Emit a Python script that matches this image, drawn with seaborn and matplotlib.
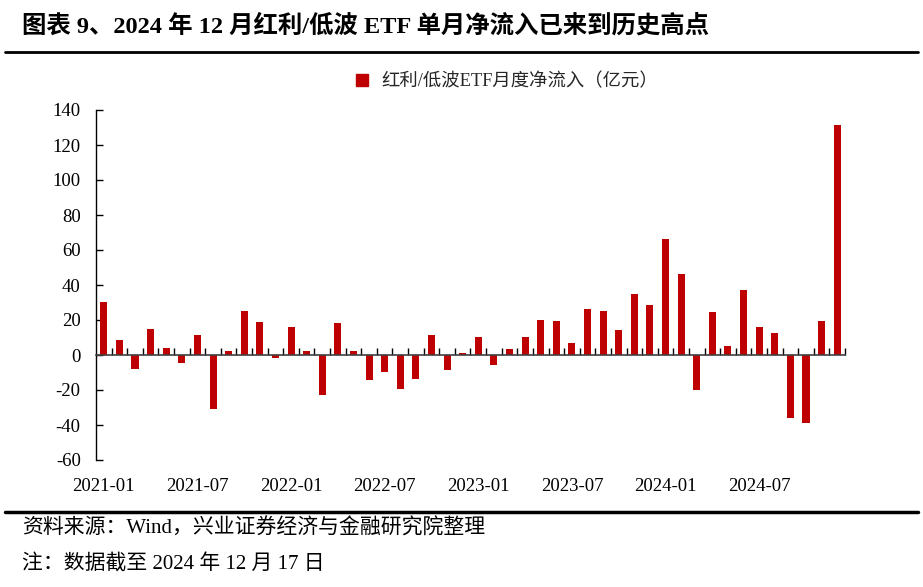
import matplotlib
matplotlib.use("Agg")
import matplotlib.pyplot as plt
import seaborn as sns
import pandas as pd
from matplotlib.lines import Line2D

# ---- data ----
months = [f"{y}-{m:02d}" for y in (2021, 2022, 2023, 2024) for m in range(1, 13)]
inflow_2021 = [30.5, 8.6, -8.2, 14.7, 4.0, -4.8, 11.2, -31.0, 2.1, 25.1, 18.7, -1.7]
inflow_2022 = [16.0, 2.3, -23.0, 18.1, 2.3, -14.3, -9.5, -19.6, -13.9, 11.4, -8.6, 1.3]
inflow_2023 = [10.1, -5.7, 3.2, 10.3, 20.2, 19.2, 6.9, 26.1, 25.0, 14.3, 35.0, 28.8]
inflow_2024 = [66.3, 46.3, -19.8, 24.6, 5.0, 37.3, 16.0, 12.8, -35.8, -38.7, 19.4, 131.4]
inflow = inflow_2021 + inflow_2022 + inflow_2023 + inflow_2024
tick_labels = ["2021-01", "2021-07", "2022-01", "2022-07", "2023-01",
               "2023-07", "2024-01", "2024-07"]
yticks = [-60, -40, -20, 0, 20, 40, 60, 80, 100, 120, 140]
series_name = "红利/低波ETF月度净流入（亿元）"
title = "图表 9、2024 年 12 月红利/低波 ETF 单月净流入已来到历史高点"
source = "资料来源：Wind，兴业证券经济与金融研究院整理"
note = "注：数据截至 2024 年 12 月 17 日"

df = pd.DataFrame({"month": months, "inflow": inflow})

sns.set_theme(style="white")
plt.rcParams["font.family"] = ["Liberation Serif", "Noto Sans CJK SC", "DejaVu Sans"]

fig = plt.figure(figsize=(9.23, 5.87), dpi=100)
ax = fig.add_axes([96 / 923, 1 - 460 / 587, 749 / 923, 350 / 587])

red = "#BE0000"
sns.barplot(data=df, x="month", y="inflow", color=red, width=0.45,
            saturation=1, linewidth=0, ax=ax, zorder=3)

n = len(months)
ax.set_xlim(-0.5, n - 0.5)
ax.set_ylim(min(yticks), max(yticks))
ax.set_yticks(yticks)
ax.set_yticklabels([str(v) for v in yticks], fontsize=13.5, color="black")
ax.tick_params(axis="y", left=True, direction="in", length=5, width=1,
               color="black", pad=11)
ax.set_xlabel("")
ax.set_ylabel("")

# spines
for s in ["top", "right"]:
    ax.spines[s].set_visible(False)
ax.spines["left"].set_color("black")
ax.spines["left"].set_linewidth(1.0)
ax.spines["bottom"].set_position(("data", 0))
ax.spines["bottom"].set_color("#404040")
ax.spines["bottom"].set_linewidth(1.2)
ax.spines["bottom"].set_zorder(4)

# category boundary ticks on the zero line
ax.set_xticks([])
ax.set_xticks([i + 0.5 for i in range(n)], minor=True)
ax.tick_params(axis="x", which="minor", bottom=True, direction="in", length=5,
               width=1, color="black", labelbottom=False)

# date labels at the bottom of the plot area
sec = ax.secondary_xaxis("bottom")
label_pos = [months.index(t) for t in tick_labels]
sec.set_xticks(label_pos)
sec.set_xticklabels(tick_labels, fontsize=13.5, color="black")
sec.tick_params(length=0, pad=13)
sec.spines["bottom"].set_visible(False)

# legend
handle = Line2D([], [], marker="s", linestyle="none", markersize=8,
                markerfacecolor=red, markeredgecolor=red)
leg = ax.legend([handle], [series_name], loc="center",
                bbox_to_anchor=(0.54, 1.08), frameon=False,
                fontsize=13.2, handletextpad=0.05, borderaxespad=0)

# title, rules and footnotes
fig.text(22 / 923, 1 - 26 / 587, title, fontsize=17.6, fontweight="bold",
         ha="left", va="center", color="black")
fig.add_artist(Line2D([5 / 923, 918 / 923], [1 - 52 / 587, 1 - 52 / 587],
                      color="black", linewidth=2))
fig.add_artist(Line2D([5 / 923, 918 / 923], [1 - 512 / 587, 1 - 512 / 587],
                      color="black", linewidth=2.5))
fig.text(22 / 923, 1 - 529 / 587, source, fontsize=15, ha="left",
         va="center", color="black")
fig.text(22 / 923, 1 - 565 / 587, note, fontsize=15, ha="left",
         va="center", color="black")

fig.savefig("out.png", dpi=100, facecolor="white")
